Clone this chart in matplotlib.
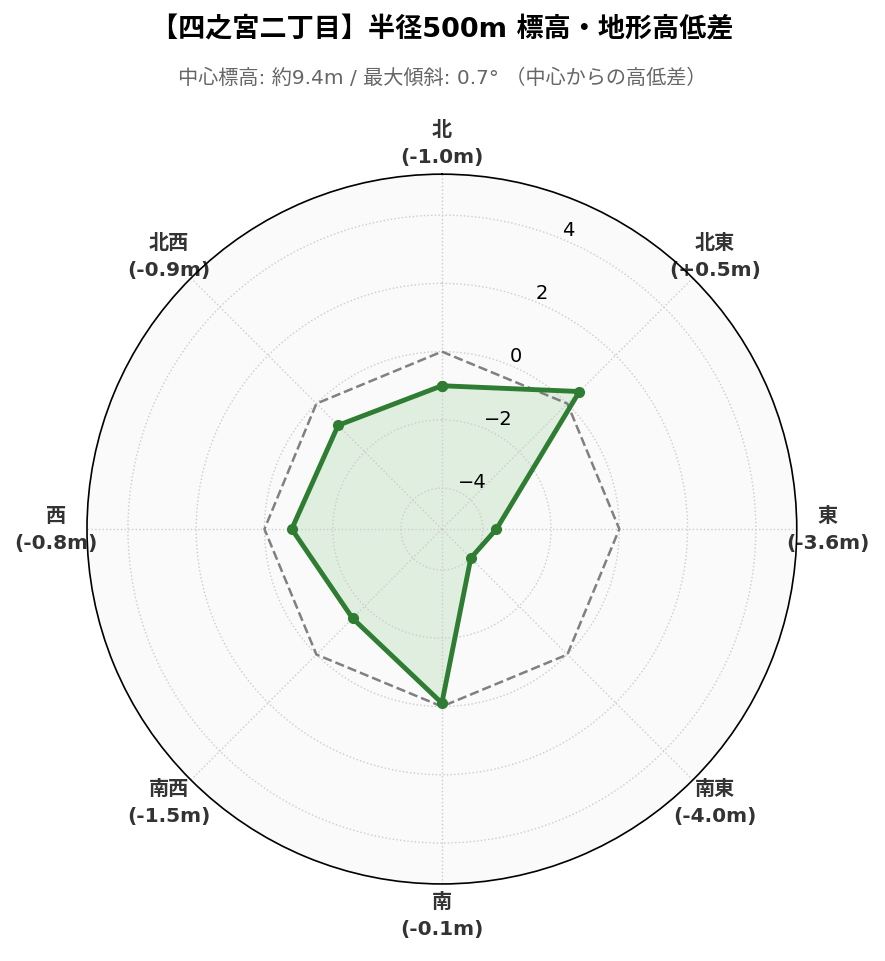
import numpy as np
import matplotlib
matplotlib.use("Agg")
import matplotlib.pyplot as plt

plt.rcParams['font.family'] = ['DejaVu Sans', 'Noto Sans CJK JP']

directions = ['北', '北東', '東', '南東', '南', '南西', '西', '北西']
diffs = [-1.0, 0.5, -3.6, -4.0, -0.1, -1.5, -0.8, -0.9]
title = '【四之宮二丁目】半径500m 標高・地形高低差'
subtitle = '中心標高: 約9.4m / 最大傾斜: 0.7° （中心からの高低差）'

angles = np.linspace(0, 2 * np.pi, len(directions), endpoint=False)
ang_c = np.append(angles, angles[0])
val_c = np.append(diffs, diffs[0])
zero_c = np.zeros_like(ang_c)

fig = plt.figure(figsize=(8.85, 9.62), dpi=100)
ax = fig.add_axes([0.0983, 0.080, 0.802, 0.738], projection='polar')
ax.set_theta_zero_location('N')
ax.set_theta_direction(-1)
ax.set_facecolor('#fafafa')

lim = max(abs(v) for v in diffs) * 1.3
ax.set_ylim(-lim, lim)
ax.set_yticks([-4, -2, 0, 2, 4])
ax.tick_params(axis='y', labelsize=14)

ax.plot(ang_c, zero_c, '--', color='gray', lw=1.8)
ax.fill(ang_c, val_c, color='#4caf50', alpha=0.15)
ax.plot(ang_c, val_c, '-o', color='#2e7d32', lw=3.5, ms=7)

labels = [f'{d}\n({v:+.1f}m)' if v > 0 else f'{d}\n({v:.1f}m)' for d, v in zip(directions, diffs)]
ax.set_xticks(angles)
ax.set_xticklabels(labels, fontsize=14.5, fontweight='bold', color='#333333', linespacing=1.55)
ax.tick_params(axis='x', pad=12)
ax.grid(True, color='#cccccc', linestyle=':', lw=1)
ax.spines['polar'].set_color('black')
ax.spines['polar'].set_linewidth(1.2)

fig.text(0.5, 0.968, title, ha='center', va='center', fontsize=19.5, fontweight='bold')
fig.text(0.5, 0.919, subtitle, ha='center', va='center', fontsize=14.5, color='#666666')

fig.savefig('out.png', dpi=100, facecolor='white')
